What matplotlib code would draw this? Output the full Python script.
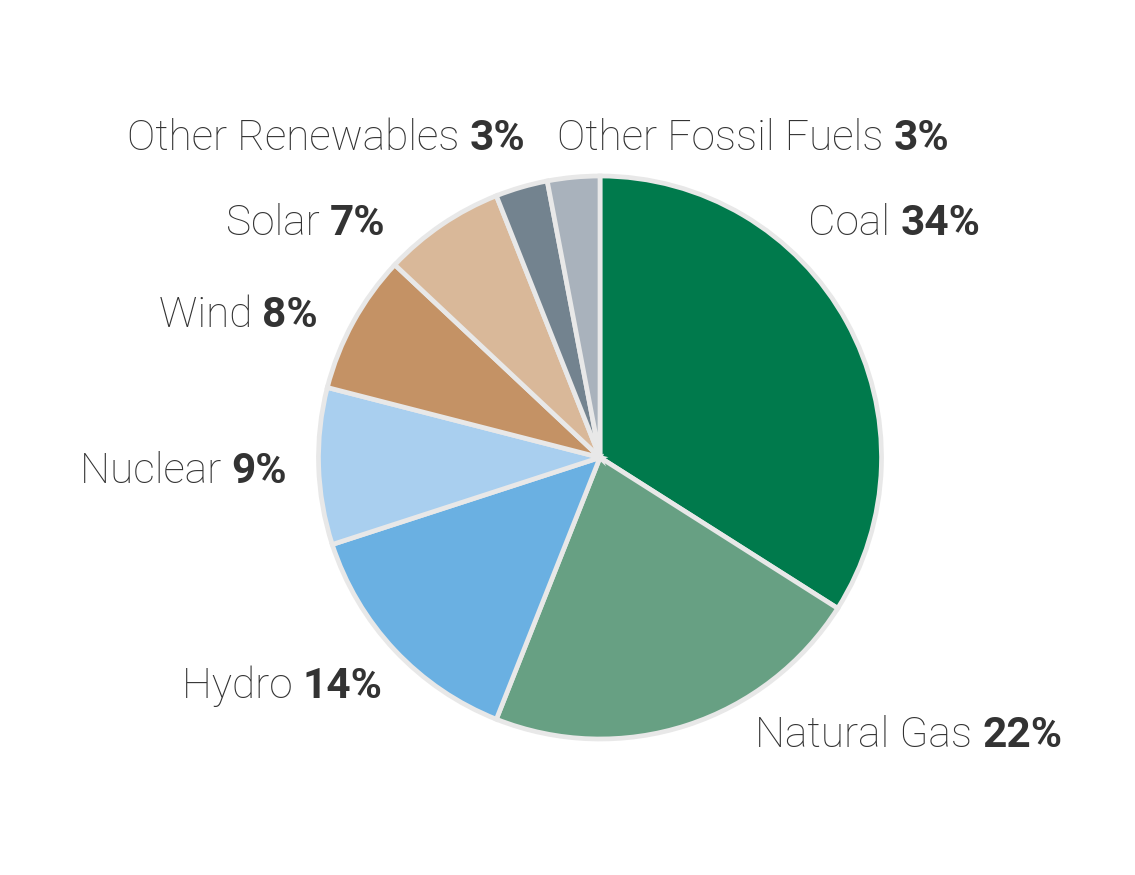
import matplotlib
matplotlib.use("Agg")
import matplotlib.pyplot as plt

categories = ["Coal", "Natural Gas", "Hydro", "Nuclear", "Wind", "Solar",
              "Other Renewables", "Other Fossil Fuels"]
shares = [34, 22, 14, 9, 8, 7, 3, 3]
colors = ["#007A4C", "#67A083", "#6AB0E2", "#A9CFEF", "#C49265", "#D9B899",
          "#73838F", "#A9B2BC"]

# label anchors in figure pixels (x, baseline y from top) and alignment
label_pos = {
    "Coal": (808, 235, "left"),
    "Natural Gas": (755, 747, "left"),
    "Hydro": (383, 698, "right"),
    "Nuclear": (287, 483, "right"),
    "Wind": (318, 327, "right"),
    "Solar": (385, 235, "right"),
    "Other Renewables": (525, 150, "right"),
    "Other Fossil Fuels": (557, 150, "left"),
}

W, H = 1135, 875
fig = plt.figure(figsize=(W / 100, H / 100), dpi=100)
fig.patch.set_facecolor("white")

cx, cy, r = 600, 457.5, 281.5
ax = fig.add_axes([(cx - r) / W, (H - cy - r) / H, 2 * r / W, 2 * r / H])
ax.pie(shares, colors=colors, startangle=90, counterclock=False, radius=1,
       wedgeprops=dict(edgecolor="#E8E8E8", linewidth=3.4))
ax.set_xlim(-1, 1)
ax.set_ylim(-1, 1)
ax.set_aspect("equal")
ax.axis("off")

fs = 30.5
txt_color = "#333333"
renderer = fig.canvas.get_renderer()
for name, val in zip(categories, shares):
    px, py, ha = label_pos[name]
    x = px / W
    y = 1 - py / H
    pct = f"{val}%"
    if ha == "left":
        t1 = fig.text(x, y, name + " ", ha="left", va="baseline", fontsize=fs,
                      family="Roboto", weight="light", color=txt_color)
        bb = t1.get_window_extent(renderer)
        fig.text(bb.x1 / W, y, pct, ha="left", va="baseline", fontsize=fs,
                 family="Roboto", weight="bold", color=txt_color)
    else:
        t2 = fig.text(x, y, pct, ha="right", va="baseline", fontsize=fs,
                      family="Roboto", weight="bold", color=txt_color)
        bb = t2.get_window_extent(renderer)
        fig.text(bb.x0 / W, y, name + " ", ha="right", va="baseline", fontsize=fs,
                 family="Roboto", weight="light", color=txt_color)

fig.savefig("out.png", dpi=100, facecolor="white")
